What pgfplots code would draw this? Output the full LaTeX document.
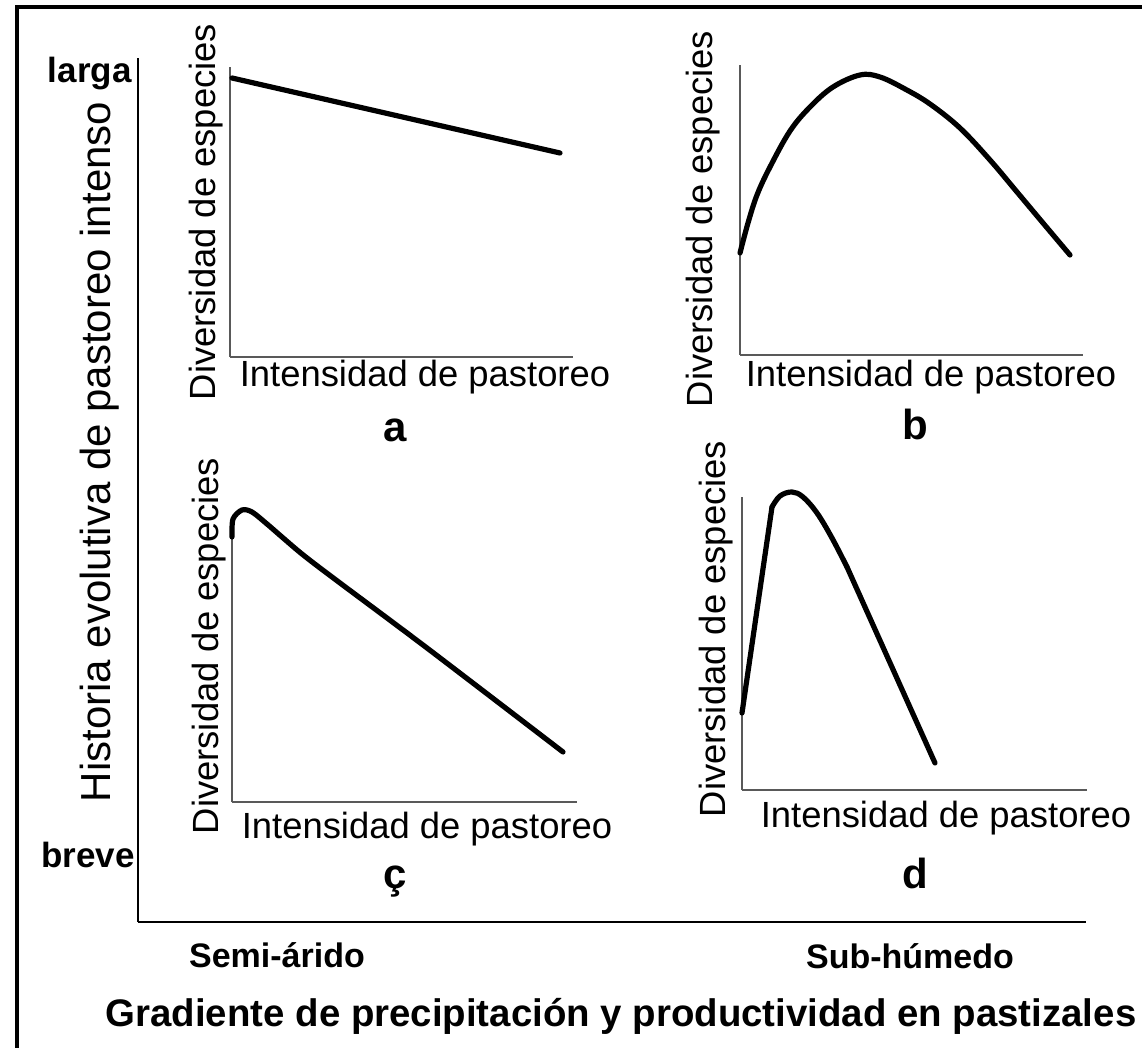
\documentclass[border=0pt]{standalone}
\usepackage{fontspec}
\setmainfont{Liberation Sans}
\usepackage{pgfplots}
\pgfplotsset{compat=1.18}
\pgfplotsset{
  panel/.style={
    scale only axis,
    axis x line=bottom, axis y line=left,
    axis line style={-, draw=black!65, line width=1.2pt},
    xtick=\empty, ytick=\empty,
    clip=false,
    anchor=south west,
  },
  curve/.style={black, line width=2.6pt, line join=round, line cap=round, no marks},
}
\newcommand{\ax}[1]{#1*0.5pt}
\begin{document}
\begin{tikzpicture}
\path[use as bounding box] (0,0) rectangle (571pt,-524pt);
% frame (left and top)
\draw[line width=2pt] ({\ax{17}},{-\ax{1048}}) -- ({\ax{17}},{-\ax{7}}) -- ({\ax{1142}},{-\ax{7}});

% main L-shaped axis
\begin{axis}[panel, at={({\ax{138}},{-\ax{922}})},
  width={\ax{948}}, height={\ax{864}},
  xmin=0, xmax=948, ymin=0, ymax=864,
  axis line style={-, draw=black, line width=1pt}]
\end{axis}

% panel a
\begin{axis}[panel, at={({\ax{230}},{-\ax{357}})},
  width={\ax{343}}, height={\ax{290}},
  xmin=0, xmax=343, ymin=0, ymax=290]
\addplot[curve] coordinates {(2,279) (330,204)};
\end{axis}

% panel b
\begin{axis}[panel, at={({\ax{740}},{-\ax{355}})},
  width={\ax{343}}, height={\ax{290}},
  xmin=0, xmax=343, ymin=0, ymax=290]
\addplot[curve, smooth, tension=0.6] coordinates {(0,102) (8,132) (17,160) (30,188) (50,224) (70,248) (93,268) (120,280) (140,278) (165,266) (190,251) (220,227) (250,195) (277,163) (303,132) (330,100)};
\end{axis}

% panel c
\begin{axis}[panel, at={({\ax{232}},{-\ax{802}})},
  width={\ax{345}}, height={\ax{265}},
  xmin=0, xmax=345, ymin=0, ymax=265]
\addplot[curve, smooth, tension=0.5] coordinates {(0,265) (1,283) (10,292) (20,290) (35,278) (50,265) (70,248) (100,225) (195,154) (331,50)};
\end{axis}

% panel d
\begin{axis}[panel, at={({\ax{742}},{-\ax{790}})},
  width={\ax{345}}, height={\ax{293}},
  xmin=0, xmax=345, ymin=0, ymax=293]
\addplot[curve] coordinates {(0,77) (30,283)};
\addplot[curve, smooth, tension=0.6] coordinates {(30,283) (38,294) (50,298) (61,293) (75,277) (90,252) (105,223)};
\addplot[curve] coordinates {(105,223) (193,27)};
\end{axis}

% texts
\tikzset{lab/.style={font=\fontsize{18.2pt}{20pt}\selectfont, inner sep=0pt}}
\node[lab, rotate=90] at ({\ax{206}},{-\ax{212}}) {Diversidad de especies};
\node[lab, rotate=90] at ({\ax{703}},{-\ax{219}}) {Diversidad de especies};
\node[lab, rotate=90] at ({\ax{209}},{-\ax{646}}) {Diversidad de especies};
\node[lab, rotate=90] at ({\ax{716}},{-\ax{629}}) {Diversidad de especies};

\node[lab, anchor=base] at ({\ax{425}},{-\ax{387}}) {Intensidad de pastoreo};
\node[lab, anchor=base] at ({\ax{931}},{-\ax{387}}) {Intensidad de pastoreo};
\node[lab, anchor=base] at ({\ax{427}},{-\ax{838}}) {Intensidad de pastoreo};
\node[lab, anchor=base] at ({\ax{946}},{-\ax{827}}) {Intensidad de pastoreo};

\tikzset{let/.style={font=\fontsize{21pt}{24pt}\selectfont\bfseries, inner sep=0pt, anchor=base}}
\node[let] at ({\ax{395}},{-\ax{442}}) {a};
\node[let] at ({\ax{915}},{-\ax{440}}) {b};
\node[let] at ({\ax{395}},{-\ax{888}}) {ç};
\node[let] at ({\ax{915}},{-\ax{888}}) {d};

\node[font=\fontsize{17.5pt}{20pt}\selectfont\bfseries, inner sep=0pt, anchor=base east] at ({\ax{132}},{-\ax{83}}) {larga};
\node[font=\fontsize{17.5pt}{20pt}\selectfont\bfseries, inner sep=0pt, anchor=base east] at ({\ax{135}},{-\ax{867}}) {breve};

\node[font=\fontsize{21pt}{24pt}\selectfont, inner sep=0pt, rotate=90] at ({\ax{100}},{-\ax{452}}) {Historia evolutiva de pastoreo intenso};

\node[font=\fontsize{17pt}{20pt}\selectfont\bfseries, inner sep=0pt, anchor=base] at ({\ax{277}},{-\ax{967}}) {Semi-árido};
\node[font=\fontsize{17pt}{20pt}\selectfont\bfseries, inner sep=0pt, anchor=base] at ({\ax{910}},{-\ax{968}}) {Sub-húmedo};
\node[font=\fontsize{19.2pt}{22pt}\selectfont\bfseries, inner sep=0pt, anchor=base] at ({\ax{621}},{-\ax{1026}}) {Gradiente de precipitación y productividad en pastizales};
\end{tikzpicture}
\end{document}
